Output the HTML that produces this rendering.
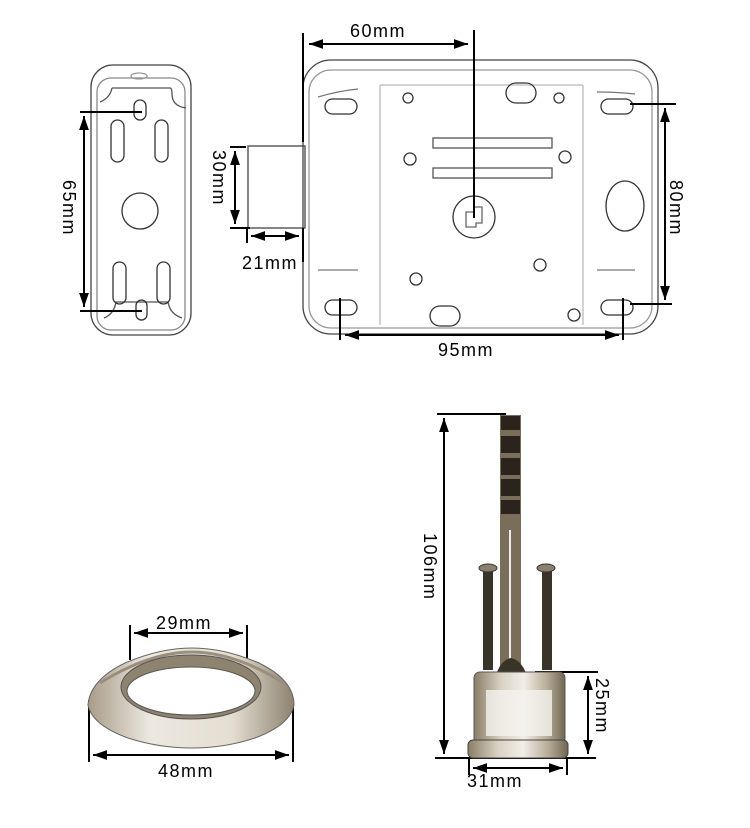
<!DOCTYPE html>
<html><head><style>html,body{margin:0;padding:0;background:#fff}svg{display:block}</style></head><body>
<svg width="750" height="828" viewBox="0 0 750 828" xmlns="http://www.w3.org/2000/svg" font-family="Liberation Sans, sans-serif">
<defs>
<marker id="a" viewBox="0 0 10 10" refX="10" refY="5" markerWidth="7" markerHeight="7" orient="auto-start-reverse"><path d="M0,1.5L10,5L0,8.5z" fill="#000"/></marker>
<linearGradient id="metal" x1="0" x2="1"><stop offset="0" stop-color="#8a7d66"/><stop offset=".3" stop-color="#d9d2c4"/><stop offset=".55" stop-color="#f2eee6"/><stop offset=".8" stop-color="#b8ad98"/><stop offset="1" stop-color="#6f6552"/></linearGradient>
<linearGradient id="ring" x1="0" x2="1"><stop offset="0" stop-color="#a89c88"/><stop offset=".3" stop-color="#ece8e0"/><stop offset=".7" stop-color="#e4ded2"/><stop offset="1" stop-color="#8d826e"/></linearGradient>
</defs>
<g fill="none" stroke="#333" stroke-width="1.3">
<rect x="91" y="65" width="100" height="270" rx="22" stroke="#444"/>
<rect x="97" y="78" width="88" height="252" rx="14" stroke="#888"/>
<path d="M112,88 h58 q2,0 2,6 q0,12 14,14 M112,88 q-2,10 -12,14" stroke="#555"/>
<path d="M104,318 q10,-4 12,-16 h52 q2,12 14,16" stroke="#555"/>
<ellipse cx="139" cy="76" rx="8" ry="3" stroke="#999"/>
<rect x="134" y="100" width="12" height="20" rx="6"/>
<rect x="111" y="120" width="13" height="42" rx="6.5"/>
<rect x="155" y="120" width="13" height="42" rx="6.5"/>
<circle cx="140" cy="211" r="18"/>
<rect x="113" y="262" width="13" height="42" rx="6.5"/>
<rect x="157" y="262" width="13" height="42" rx="6.5"/>
<rect x="136" y="300" width="11" height="20" rx="5.5"/>
<rect x="248" y="146" width="57" height="82" stroke="#444"/>
<rect x="303" y="60" width="355" height="274" rx="28" stroke="#444"/>
<rect x="309" y="70" width="343" height="258" rx="22" stroke="#999"/>
<path d="M380,85 V325 M583,85 V325 M380,85 H583" stroke="#bbb"/>
<rect x="325" y="99" width="32" height="15" rx="7.5"/>
<rect x="601" y="99" width="32" height="15" rx="7.5"/>
<rect x="325" y="300" width="32" height="15" rx="7.5"/>
<rect x="601" y="300" width="32" height="15" rx="7.5"/>
<rect x="506" y="83" width="30" height="20" rx="10"/>
<rect x="430" y="306" width="30" height="20" rx="10"/>
<ellipse cx="625" cy="206" rx="19" ry="25"/>
<circle cx="408" cy="98" r="5"/><circle cx="559" cy="98" r="5"/>
<circle cx="410" cy="159" r="6"/><circle cx="565" cy="157" r="6"/>
<circle cx="540" cy="265" r="6"/><circle cx="416" cy="279" r="6"/><circle cx="574" cy="315" r="6"/>
<rect x="433" y="138" width="119" height="10" stroke="#555"/>
<rect x="433" y="168" width="119" height="10" stroke="#555"/>
<circle cx="474" cy="217" r="21"/>
<path d="M466,212 h8 v-5 h8 v16 h-6 v4 h-10z" stroke="#666"/>
<path d="M318,97 q20,-6 40,-8 M318,270 h40 M597,92 q20,0 38,2 M597,270 h38" stroke="#777"/>
</g>
<g stroke="#000" stroke-width="2" fill="none">
<path d="M80,112 H142 M80,311 H142"/>
<path d="M84,116 V307" marker-start="url(#a)" marker-end="url(#a)"/>
<path d="M303,33 V142"/>
<path d="M309,44 H468" marker-start="url(#a)" marker-end="url(#a)"/>
<path d="M474,30 V218"/>
<path d="M630,104 H676 M630,304 H672"/>
<path d="M665,108 V300" marker-start="url(#a)" marker-end="url(#a)"/>
<path d="M340,298 V340 M623,298 V340"/>
<path d="M345,335 H619" marker-start="url(#a)" marker-end="url(#a)"/>
<path d="M230,147 H246 M230,228 H250"/>
<path d="M235,151 V224" marker-start="url(#a)" marker-end="url(#a)"/>
<path d="M247,228 V243 M303,228 V262"/>
<path d="M251,236 H299" marker-start="url(#a)" marker-end="url(#a)"/>
<path d="M130,625 V660 M247,625 V660"/>
<path d="M134,633 H243" marker-start="url(#a)" marker-end="url(#a)"/>
<path d="M89,700 V762 M293,700 V762"/>
<path d="M93,755 H289" marker-start="url(#a)" marker-end="url(#a)"/>
<path d="M437,414 H506 M435,758 H596 M535,672 H598"/>
<path d="M444,418 V754" marker-start="url(#a)" marker-end="url(#a)"/>
<path d="M588,676 V754" marker-start="url(#a)" marker-end="url(#a)"/>
<path d="M469,758 V775 M567,758 V775"/>
<path d="M473,768 H563" marker-start="url(#a)" marker-end="url(#a)"/>
</g>
<!-- ring -->
<path d="M88,705 Q90,680 125,663 Q160,648 192,648 Q224,648 259,663 Q294,680 294,705 Q290,725 255,738 Q225,748 192,748 Q159,748 128,738 Q92,725 88,705z" fill="url(#ring)" stroke="#666"/>
<path d="M100,683 Q150,652 192,652 Q234,652 284,683" fill="none" stroke="#9a8f7c" stroke-width="3"/>
<ellipse cx="191" cy="687" rx="70" ry="32" fill="#8e836f" stroke="#555"/>
<ellipse cx="191" cy="691" rx="64" ry="24" fill="#fff" stroke="#555"/>
<!-- cylinder -->
<rect x="500" y="415" width="21" height="265" fill="#7a6e5a"/>
<g fill="#2a241c"><rect x="501" y="416" width="19" height="14"/><rect x="501" y="436" width="19" height="17"/><rect x="501" y="458" width="19" height="17"/><rect x="501" y="479" width="19" height="17"/><rect x="501" y="500" width="19" height="14"/></g>
<rect x="509" y="530" width="2" height="130" fill="#eee"/>
<g fill="#3a3328"><rect x="483" y="570" width="10" height="100"/><rect x="542" y="570" width="10" height="100"/></g>
<ellipse cx="488" cy="568" rx="9" ry="4" fill="#8a806c" stroke="#333"/>
<ellipse cx="546" cy="568" rx="9" ry="4" fill="#8a806c" stroke="#333"/>
<path d="M495,678 Q500,660 511,658 Q522,660 528,678z" fill="#3a3328"/>
<rect x="474" y="672" width="91" height="72" rx="6" fill="url(#metal)" stroke="#555"/>
<rect x="486" y="690" width="66" height="46" fill="#f4f2ee" opacity=".8"/>
<rect x="468" y="740" width="100" height="18" rx="5" fill="url(#metal)" stroke="#444"/>
<g font-size="18" fill="#000" letter-spacing="1.5">
<text x="350" y="37">60mm</text>
<text x="242" y="269">21mm</text>
<text x="438" y="356">95mm</text>
<text x="156" y="629">29mm</text>
<text x="158" y="777">48mm</text>
<text x="467" y="787">31mm</text>
<text transform="translate(63,180) rotate(90)">65mm</text>
<text transform="translate(213,150) rotate(90)">30mm</text>
<text transform="translate(670,180) rotate(90)">80mm</text>
<text transform="translate(424,533) rotate(90)">106mm</text>
<text transform="translate(596,678) rotate(90)">25mm</text>
</g>
</svg>
</body></html>
